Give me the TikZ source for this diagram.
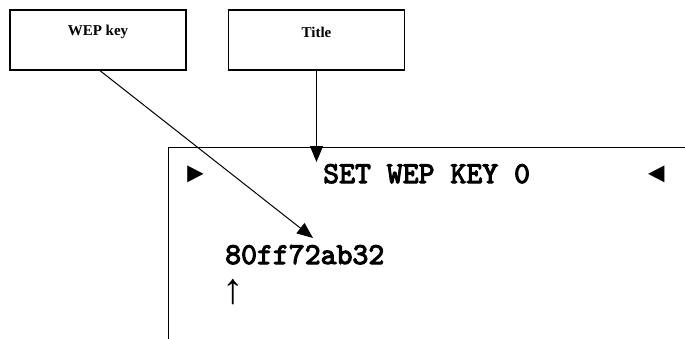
\documentclass[tikz,border=0pt]{standalone}
\usepackage{fontspec}
\setmainfont{Liberation Serif}
\newfontfamily\lcdfont{lmmono10-regular.otf}[FakeBold=3.5]
\newfontfamily\symfont{Liberation Mono}
\newfontfamily\arrowfont{Liberation Serif}
\usetikzlibrary{arrows.meta}
\tikzset{
  callbox/.style={draw, line width=1.3pt, minimum width=176pt, minimum height=60pt, inner sep=0pt},
  calltext/.style={font=\bfseries\fontsize{15}{17}\selectfont, inner sep=0pt},
  lcd/.style={font=\lcdfont\fontsize{30.3}{34}\selectfont, inner sep=0pt, anchor=base west},
  lcdsym/.style={font=\symfont\bfseries\fontsize{28.5}{32}\selectfont, inner sep=0pt, anchor=base west},
  pointer/.style={line width=1pt, -{Triangle[length=16pt,width=13pt]}},
}
\begin{document}
\begin{tikzpicture}[x=1pt,y=-1pt]
\useasboundingbox (0,0) rectangle (685,338);
% callout boxes
\node[callbox] (wep) at (98,40) {};
\node[calltext] (weptext) at (98,32) {WEP key};
\node[callbox] (title) at (316.5,40) {};
\node[calltext] (titletext) at (316.5,32) {Title};
% display frame
\coordinate (dtr) at (686,147);
\coordinate (dtl) at (168,147);
\coordinate (dbl) at (168,339);
\draw[line width=1pt] (dtr) -- (dtl) -- (dbl);
% display text
\node[lcdsym] (lptr) at (186.5,182) {►};
\node[lcd] (heading) at (323,183) {SET WEP KEY 0};
\node[lcd] (key) at (225,264) {80ff72ab32};
\node[lcdsym] (rptr) at (648,182) {◄};
\node[font=\arrowfont\fontsize{43}{48}\selectfont, inner sep=0pt, anchor=base] (cursor) at (233,303) {↑};
% connectors
\coordinate (ttip) at (316.5,162);
\coordinate (wtip) at (313,238);
\draw[pointer] (title.south) -- (ttip);
\draw[pointer] ([xshift=2pt]wep.south) -- (wtip);
\end{tikzpicture}
\end{document}
